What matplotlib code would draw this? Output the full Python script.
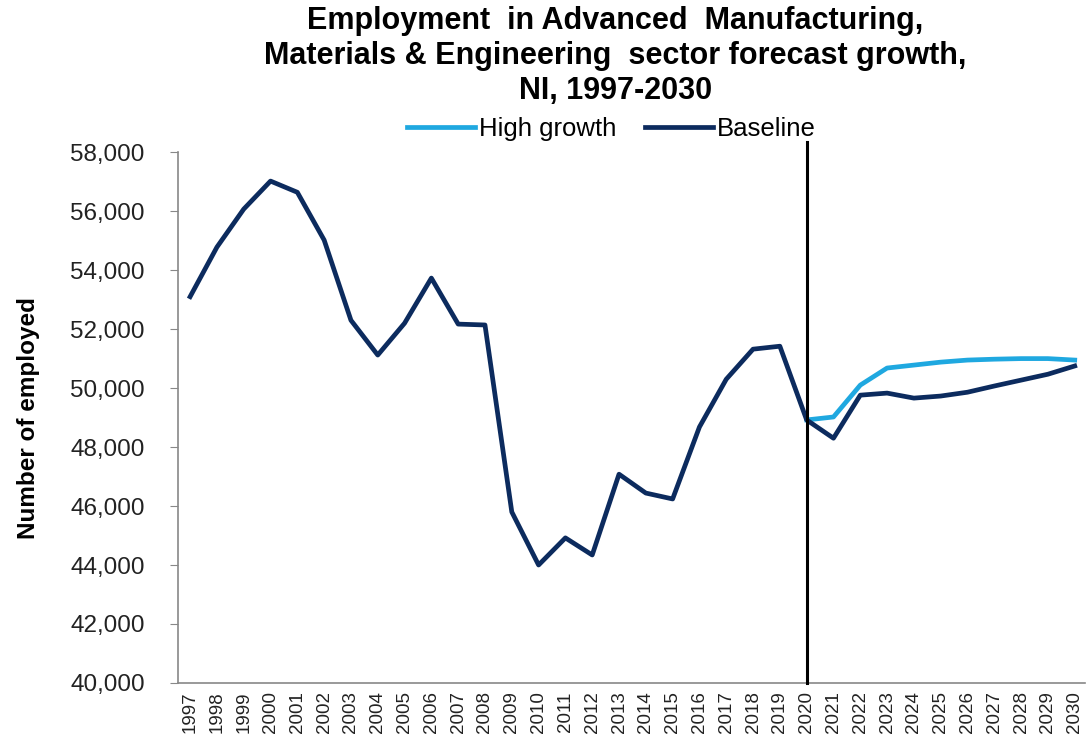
import matplotlib.pyplot as plt

plt.rcParams['font.family'] = ['Liberation Sans', 'DejaVu Sans']

years = list(range(1997, 2031))

# baseline: history to 2020, then forecast
baseline = [53100, 54780, 56070, 57020, 56640, 55020, 52300, 51120, 52200, 53730,
            52170, 52140, 45800, 44000, 44920, 44340, 47080, 46440, 46240, 48680,
            50300, 51320, 51420, 48920, 48300, 49760, 49830, 49660, 49730, 49860,
            50070, 50270, 50470, 50750]

high_years = list(range(2020, 2031))
high_growth = [48920, 49020, 50100, 50680, 50780, 50880, 50950, 50980, 51000, 51000, 50950]

y_ticks = list(range(40000, 58001, 2000))

fig = plt.figure(figsize=(10.89, 7.46), dpi=100)
ax = fig.add_axes([0.1635, 0.0845, 0.8325, 0.7115])

ax.plot(high_years, high_growth, color='#1fa8e0', lw=3.4, label='High growth', zorder=3)
ax.plot(years, baseline, color='#0c2b5e', lw=3.4, label='Baseline', zorder=4)
ax.axvline(2020, ymin=0, ymax=1.02, color='black', lw=2.2, clip_on=False, zorder=5)

ax.set_xlim(1996.55, 2030.37)
ax.set_ylim(40000, 58000)
ax.set_xticks(years)
ax.set_xticklabels([str(y) for y in years], rotation=90, fontsize=13.5, color='#222222')
ax.set_yticks(y_ticks)
ax.set_yticklabels([f'{v:,}' for v in y_ticks], fontsize=17.5, color='#222222')
ax.tick_params(axis='x', length=0, pad=6)
ax.tick_params(axis='y', length=6, color='#888888', pad=18)

for side in ['top', 'right']:
    ax.spines[side].set_visible(False)
for side in ['left', 'bottom']:
    ax.spines[side].set_color('#888888')
    ax.spines[side].set_linewidth(1.2)

ax.set_ylabel('Number of employed', fontsize=17.5, fontweight='bold', labelpad=22)

fig.text(0.565, 0.992, 'Employment  in Advanced  Manufacturing,\n'
         'Materials & Engineering  sector forecast growth,\n'
         'NI, 1997-2030',
         ha='center', va='top', fontsize=22, fontweight='bold', linespacing=1.22)

ax.legend(loc='center', bbox_to_anchor=(0.478, 1.043), ncol=2, frameon=False,
          fontsize=18.5, handlelength=2.65, handletextpad=0.15, columnspacing=1.1,
          borderaxespad=0, borderpad=0)

plt.savefig('out.png')
